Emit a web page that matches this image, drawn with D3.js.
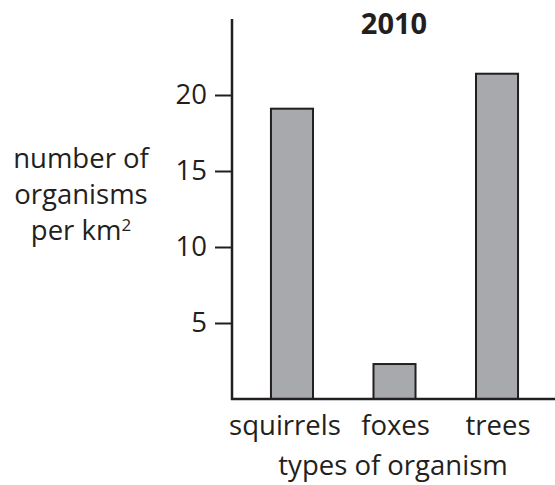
<!DOCTYPE html>
<html>
<head>
<meta charset="utf-8">
<script src="https://cdn.jsdelivr.net/npm/d3@7"></script>
<style>
  body { margin: 0; background: #fff; }
  text { font-family: "Open Sans", sans-serif; fill: #231f20; }
</style>
</head>
<body>
<div id="chart"></div>
<script>
// data
const categories = ["squirrels", "foxes", "trees"];
const values = [19.1, 2.3, 21.4];
const yTicks = [5, 10, 15, 20];
const title = "2010";

const WIDTH = 555,
    HEIGHT = 485;

const margins = { top: 19, left: 232, bottom: 86, right: 0 };
const FONT = 27.5;

const svg = d3.select("#chart")
    .append("svg")
    .attr("width", WIDTH)
    .attr("height", HEIGHT);

// 0 at baseline, 5 units = 76px
const y = d3.scaleLinear()
    .domain([0, 5])
    .range([399, 323]);

const x = d3.scaleBand()
    .domain(categories)
    .range([232, 557])
    .paddingInner(0.59)
    .paddingOuter(0.38);

// bars
svg.append("g")
    .selectAll("rect")
    .data(categories)
    .join("rect")
    .attr("x", d => x(d))
    .attr("y", (d, i) => y(values[i]))
    .attr("width", x.bandwidth())
    .attr("height", (d, i) => y(0) - y(values[i]))
    .attr("fill", "#a7a9ac")
    .attr("stroke", "#231f20")
    .attr("stroke-width", 2);

// y axis
const yAxis = svg.append("g")
    .attr("transform", `translate(${margins.left}, 0)`)
    .call(d3.axisLeft(y).tickValues(yTicks).tickFormat(d3.format("d")).tickSize(17).tickPadding(8));
yAxis.select(".domain").remove();
yAxis.selectAll(".tick line").attr("stroke", "#231f20").attr("stroke-width", 2);
yAxis.selectAll(".tick text")
    .attr("font-size", FONT)
    .attr("font-family", "Open Sans, sans-serif")
    .attr("fill", "#231f20");

svg.append("line")
    .attr("x1", margins.left).attr("x2", margins.left)
    .attr("y1", margins.top).attr("y2", y(0) + 1)
    .attr("stroke", "#231f20")
    .attr("stroke-width", 2.5);

// x axis line
svg.append("line")
    .attr("x1", margins.left - 1).attr("x2", WIDTH)
    .attr("y1", y(0)).attr("y2", y(0))
    .attr("stroke", "#231f20")
    .attr("stroke-width", 2.5);

// category labels
const labelShift = [-7, 1, 1];
svg.append("g")
    .selectAll("text")
    .data(categories)
    .join("text")
    .attr("x", (d, i) => x(d) + x.bandwidth() / 2 + labelShift[i])
    .attr("y", 435)
    .attr("text-anchor", "middle")
    .attr("font-size", FONT)
    .text(d => d);

// title
svg.append("text")
    .attr("x", 394)
    .attr("y", 34)
    .attr("text-anchor", "middle")
    .attr("font-size", 29)
    .attr("font-weight", "bold")
    .text(title);

// x axis title
svg.append("text")
    .attr("x", 393)
    .attr("y", 475)
    .attr("text-anchor", "middle")
    .attr("font-size", FONT)
    .text("types of organism");

// y axis title
const yTitle = svg.append("text")
    .attr("text-anchor", "middle")
    .attr("font-size", FONT);
yTitle.append("tspan").attr("x", 81).attr("y", 168).text("number of");
yTitle.append("tspan").attr("x", 81).attr("y", 204).text("organisms");
yTitle.append("tspan").attr("x", 81).attr("y", 240).text("per km");
yTitle.append("tspan").attr("dy", -9).attr("font-size", 17).text("2");
</script>
</body>
</html>
